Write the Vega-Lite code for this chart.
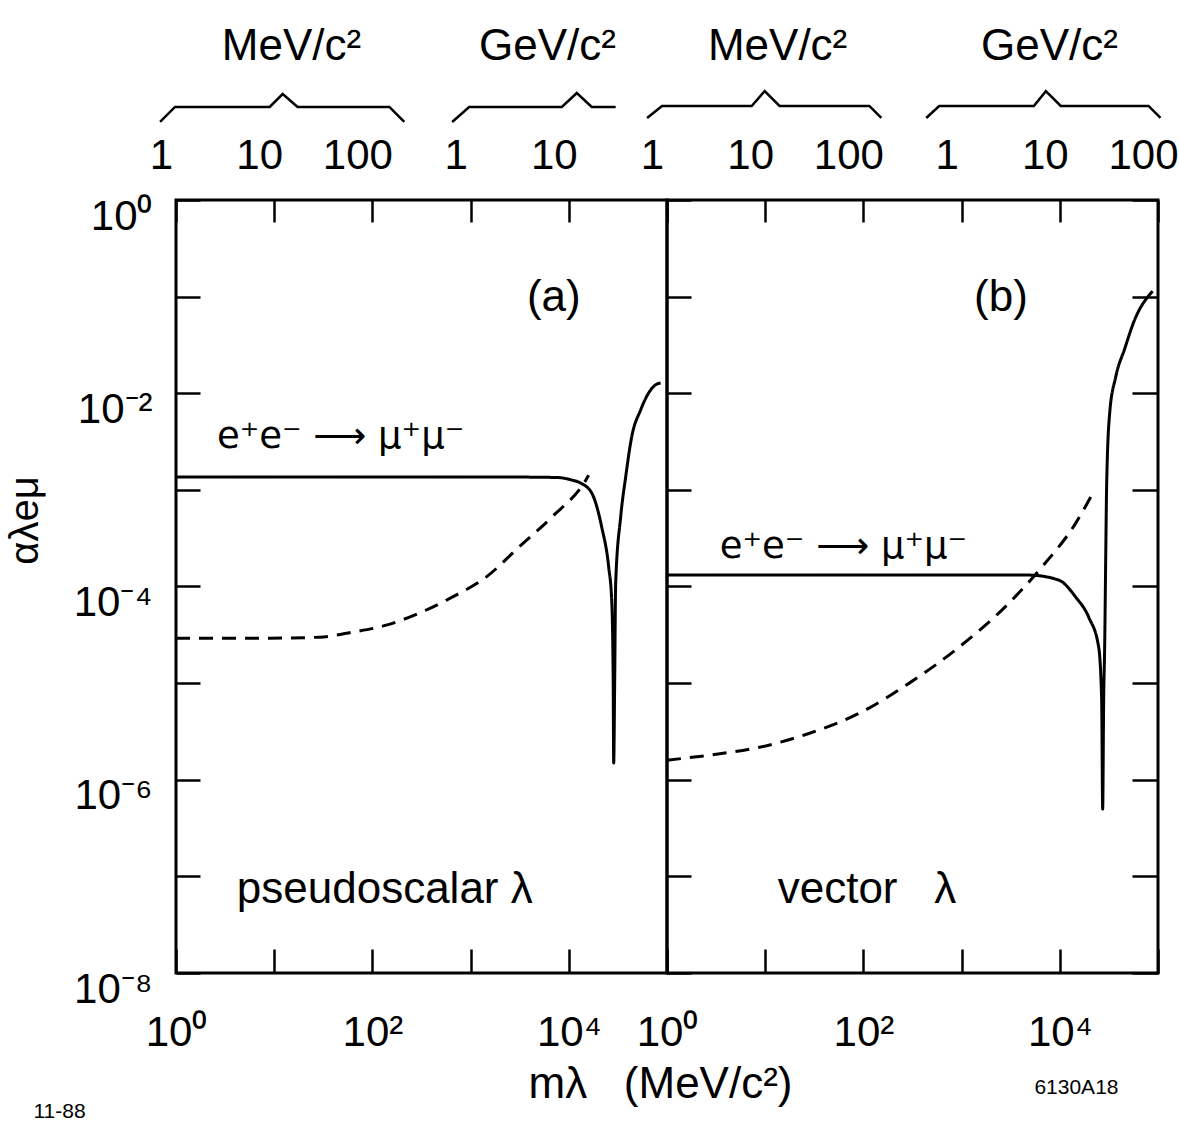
{
  "$schema": "https://vega.github.io/schema/vega-lite/v6.json",
  "background": "white",
  "padding": {"left": 3, "top": 23, "right": 5, "bottom": 5},
  "config": {
    "font": "Liberation Sans",
    "view": {"stroke": "black", "strokeWidth": 3},
    "axis": {"domain": false, "grid": false, "tickColor": "black", "tickWidth": 2.5, "labelColor": "black", "labelFont": "Liberation Sans", "labelFontSize": 42, "labelOverlap": false, "labelFlush": false, "labelBound": false, "titleColor": "black", "titleFont": "Liberation Sans", "titleFontWeight": "normal"},
    "text": {"font": "Liberation Sans", "color": "black"}
  },
  "datasets": {
    "curves": [
      {"panel": "a", "curve": "ee", "mass": 1, "coupling": 0.001358},
      {"panel": "a", "curve": "ee", "mass": 10, "coupling": 0.001358},
      {"panel": "a", "curve": "ee", "mass": 100, "coupling": 0.001358},
      {"panel": "a", "curve": "ee", "mass": 1000, "coupling": 0.001358},
      {"panel": "a", "curve": "ee", "mass": 4000, "coupling": 0.001355},
      {"panel": "a", "curve": "ee", "mass": 7900, "coupling": 0.00134},
      {"panel": "a", "curve": "ee", "mass": 10500, "coupling": 0.00127},
      {"panel": "a", "curve": "ee", "mass": 13240, "coupling": 0.001175},
      {"panel": "a", "curve": "ee", "mass": 17130, "coupling": 0.000927},
      {"panel": "a", "curve": "ee", "mass": 21640, "coupling": 0.000412},
      {"panel": "a", "curve": "ee", "mass": 25480, "coupling": 0.000159},
      {"panel": "a", "curve": "ee", "mass": 27340, "coupling": 0.0000723},
      {"panel": "a", "curve": "ee", "mass": 28310, "coupling": 0.0000107},
      {"panel": "a", "curve": "ee", "mass": 28650, "coupling": 0.00000149},
      {"panel": "a", "curve": "ee", "mass": 29330, "coupling": 0.0000107},
      {"panel": "a", "curve": "ee", "mass": 30010, "coupling": 0.000108},
      {"panel": "a", "curve": "ee", "mass": 33730, "coupling": 0.000523},
      {"panel": "a", "curve": "ee", "mass": 37930, "coupling": 0.001358},
      {"panel": "a", "curve": "ee", "mass": 43650, "coupling": 0.00352},
      {"panel": "a", "curve": "ee", "mass": 53830, "coupling": 0.0067},
      {"panel": "a", "curve": "ee", "mass": 64910, "coupling": 0.01005},
      {"panel": "a", "curve": "ee", "mass": 76420, "coupling": 0.0122},
      {"panel": "a", "curve": "ee", "mass": 85960, "coupling": 0.0128},
      {"panel": "a", "curve": "other", "mass": 1, "coupling": 0.0000292},
      {"panel": "a", "curve": "other", "mass": 9, "coupling": 0.0000292},
      {"panel": "a", "curve": "other", "mass": 29, "coupling": 0.0000299},
      {"panel": "a", "curve": "other", "mass": 62.7, "coupling": 0.0000337},
      {"panel": "a", "curve": "other", "mass": 138.7, "coupling": 0.0000398},
      {"panel": "a", "curve": "other", "mass": 300, "coupling": 0.0000531},
      {"panel": "a", "curve": "other", "mass": 649, "coupling": 0.0000776},
      {"panel": "a", "curve": "other", "mass": 1437, "coupling": 0.000125},
      {"panel": "a", "curve": "other", "mass": 3106, "coupling": 0.000256},
      {"panel": "a", "curve": "other", "mass": 6720, "coupling": 0.000523},
      {"panel": "a", "curve": "other", "mass": 14890, "coupling": 0.00126},
      {"panel": "a", "curve": "other", "mass": 15960, "coupling": 0.00142},
      {"panel": "b", "curve": "ee", "mass": 1, "coupling": 0.0001312},
      {"panel": "b", "curve": "ee", "mass": 10, "coupling": 0.0001312},
      {"panel": "b", "curve": "ee", "mass": 100, "coupling": 0.0001312},
      {"panel": "b", "curve": "ee", "mass": 1000, "coupling": 0.0001312},
      {"panel": "b", "curve": "ee", "mass": 4842, "coupling": 0.0001312},
      {"panel": "b", "curve": "ee", "mass": 9772, "coupling": 0.0001164},
      {"panel": "b", "curve": "ee", "mass": 14530, "coupling": 0.0000776},
      {"panel": "b", "curve": "ee", "mass": 19680, "coupling": 0.0000482},
      {"panel": "b", "curve": "ee", "mass": 24880, "coupling": 0.0000236},
      {"panel": "b", "curve": "ee", "mass": 26680, "coupling": 0.00000667},
      {"panel": "b", "curve": "ee", "mass": 27330, "coupling": 0.000000497},
      {"panel": "b", "curve": "ee", "mass": 27970, "coupling": 0.00000667},
      {"panel": "b", "curve": "ee", "mass": 28650, "coupling": 0.0000247},
      {"panel": "b", "curve": "ee", "mass": 29330, "coupling": 0.000187},
      {"panel": "b", "curve": "ee", "mass": 30010, "coupling": 0.00115},
      {"panel": "b", "curve": "ee", "mass": 32210, "coupling": 0.00624},
      {"panel": "b", "curve": "ee", "mass": 37070, "coupling": 0.0147},
      {"panel": "b", "curve": "ee", "mass": 45710, "coupling": 0.0287},
      {"panel": "b", "curve": "ee", "mass": 57710, "coupling": 0.0573},
      {"panel": "b", "curve": "ee", "mass": 87950, "coupling": 0.114},
      {"panel": "b", "curve": "other", "mass": 1, "coupling": 0.000001595},
      {"panel": "b", "curve": "other", "mass": 2.73, "coupling": 0.0000018},
      {"panel": "b", "curve": "other", "mass": 8.79, "coupling": 0.00000217},
      {"panel": "b", "curve": "other", "mass": 28.3, "coupling": 0.00000303},
      {"panel": "b", "curve": "other", "mass": 91.1, "coupling": 0.00000489},
      {"panel": "b", "curve": "other", "mass": 293, "coupling": 0.00001},
      {"panel": "b", "curve": "other", "mass": 944, "coupling": 0.0000236},
      {"panel": "b", "curve": "other", "mass": 3035, "coupling": 0.0000673},
      {"panel": "b", "curve": "other", "mass": 6565, "coupling": 0.000159},
      {"panel": "b", "curve": "other", "mass": 14530, "coupling": 0.000453},
      {"panel": "b", "curve": "other", "mass": 21150, "coupling": 0.000883}
    ],
    "braces": [
      {"panel": "a", "unit": "MeV", "mass": 0.688, "coupling": 6.42},
      {"panel": "a", "unit": "MeV", "mass": 0.977, "coupling": 9.18},
      {"panel": "a", "unit": "MeV", "mass": 9.0, "coupling": 9.18},
      {"panel": "a", "unit": "MeV", "mass": 12.2, "coupling": 12.5},
      {"panel": "a", "unit": "MeV", "mass": 17.3, "coupling": 9.18},
      {"panel": "a", "unit": "MeV", "mass": 149, "coupling": 9.18},
      {"panel": "a", "unit": "MeV", "mass": 211, "coupling": 6.42},
      {"panel": "a", "unit": "GeV", "mass": 649, "coupling": 6.42},
      {"panel": "a", "unit": "GeV", "mass": 966, "coupling": 9.18},
      {"panel": "a", "unit": "GeV", "mass": 8490, "coupling": 9.18},
      {"panel": "a", "unit": "GeV", "mass": 12060, "coupling": 12.8},
      {"panel": "a", "unit": "GeV", "mass": 17130, "coupling": 9.18},
      {"panel": "a", "unit": "GeV", "mass": 30010, "coupling": 9.18},
      {"panel": "b", "unit": "MeV", "mass": 0.627, "coupling": 7.06},
      {"panel": "b", "unit": "MeV", "mass": 0.89, "coupling": 9.4},
      {"panel": "b", "unit": "MeV", "mass": 7.29, "coupling": 9.4},
      {"panel": "b", "unit": "MeV", "mass": 9.88, "coupling": 13.4},
      {"panel": "b", "unit": "MeV", "mass": 14.0, "coupling": 9.4},
      {"panel": "b", "unit": "MeV", "mass": 115, "coupling": 9.4},
      {"panel": "b", "unit": "MeV", "mass": 152, "coupling": 7.06},
      {"panel": "b", "unit": "GeV", "mass": 436, "coupling": 7.06},
      {"panel": "b", "unit": "GeV", "mass": 591, "coupling": 9.4},
      {"panel": "b", "unit": "GeV", "mass": 5445, "coupling": 9.4},
      {"panel": "b", "unit": "GeV", "mass": 7210, "coupling": 13.4},
      {"panel": "b", "unit": "GeV", "mass": 10230, "coupling": 9.4},
      {"panel": "b", "unit": "GeV", "mass": 80130, "coupling": 9.4},
      {"panel": "b", "unit": "GeV", "mass": 106000, "coupling": 7.06}
    ],
    "notes": [
      {"panel": "a", "kind": "unit", "note": "MeV/c²", "mass": 2.93, "coupling": 28},
      {"panel": "a", "kind": "unit", "note": "GeV/c²", "mass": 1220, "coupling": 28},
      {"panel": "a", "kind": "tag", "note": "(a)", "mass": 3750, "coupling": 0.071},
      {"panel": "a", "kind": "process", "note": "e⁺e⁻ ⟶ μ⁺μ⁻", "mass": 2.61, "coupling": 0.00271},
      {"panel": "a", "kind": "type", "note": "pseudoscalar λ", "mass": 4.16, "coupling": 5.28e-8},
      {"panel": "b", "kind": "unit", "note": "MeV/c²", "mass": 2.61, "coupling": 28},
      {"panel": "b", "kind": "unit", "note": "GeV/c²", "mass": 1578, "coupling": 28},
      {"panel": "b", "kind": "tag", "note": "(b)", "mass": 1340, "coupling": 0.071},
      {"panel": "b", "kind": "process", "note": "e⁺e⁻ ⟶ μ⁺μ⁻", "mass": 3.45, "coupling": 0.000197},
      {"panel": "b", "kind": "type", "note": "vector\u00a0\u00a0\u00a0λ", "mass": 13.4, "coupling": 5.3e-8}
    ]
  },
  "spacing": 0,
  "bounds": "flush",
  "hconcat": [
    {
      "width": 491,
      "height": 773,
      "resolve": {"axis": {"x": "independent", "y": "independent"}},
      "layer": [
        {
          "data": {"name": "curves"},
          "transform": [{"filter": "datum.panel == 'a'"}],
          "mark": {"type": "line", "color": "black", "strokeWidth": 3, "interpolate": "monotone"},
          "encoding": {
            "x": {"field": "mass", "type": "quantitative", "scale": {"type": "log", "domain": [1, 100000], "nice": false},
              "axis": {"orient": "bottom", "values": [1, 10, 100, 1000, 10000, 100000], "tickSize": -24, "labelPadding": 96, "labelBaseline": "alphabetic",
                "labelExpr": "datum.value == 1 ? '10⁰' : datum.value == 100 ? '10²' : datum.value == 10000 ? '10⁴' : ''",
                "title": "11-88", "titleX": -143, "titleY": 144, "titleAlign": "left", "titleBaseline": "alphabetic", "titleFontSize": 21}},
            "y": {"field": "coupling", "type": "quantitative", "scale": {"type": "log", "domain": [1e-8, 1], "nice": false},
              "axis": {"orient": "left", "values": [1e-8, 1e-7, 1e-6, 1e-5, 1e-4, 1e-3, 1e-2, 1e-1, 1], "tickSize": -24, "labelPadding": 48, "labelBaseline": "alphabetic", "labelOffset": 29,
                "labelExpr": "round(log(datum.value)/LN10) == 0 ? '10⁰' : round(log(datum.value)/LN10) == -2 ? '10⁻²' : round(log(datum.value)/LN10) == -4 ? '10⁻⁴' : round(log(datum.value)/LN10) == -6 ? '10⁻⁶' : round(log(datum.value)/LN10) == -8 ? '10⁻⁸' : ''",
                "title": "αλeμ", "titleAngle": 270, "titleX": -139, "titleY": 320, "titleAlign": "center", "titleBaseline": "alphabetic", "titleFontSize": 40}},
            "strokeDash": {"field": "curve", "type": "nominal", "scale": {"domain": ["ee", "other"], "range": [[1, 0], [14, 9]]}, "legend": null}
          }
        },
        {
          "data": {"name": "braces"},
          "transform": [{"filter": "datum.panel == 'a'"}],
          "mark": {"type": "line", "color": "black", "strokeWidth": 2.5, "clip": false},
          "encoding": {
            "x": {"field": "mass", "type": "quantitative", "scale": {"type": "log", "domain": [1, 100000], "nice": false},
              "axis": {"orient": "top", "values": [1, 10, 100, 1000, 10000, 100000], "tickSize": -22, "labelPadding": 54, "labelBaseline": "alphabetic", "labelOffset": -15,
                "labelExpr": "datum.value == 1 ? '1' : datum.value == 10 ? '10' : datum.value == 100 ? '100' : datum.value == 1000 ? '1' : datum.value == 10000 ? '10' : ''",
                "title": null}},
            "y": {"field": "coupling", "type": "quantitative", "scale": {"type": "log", "domain": [1e-8, 1], "nice": false}, "axis": null},
            "detail": {"field": "unit", "type": "nominal"}
          }
        },
        {
          "data": {"name": "notes"},
          "transform": [{"filter": "datum.panel == 'a' && datum.kind != 'process'"}],
          "mark": {"type": "text", "align": "left", "baseline": "alphabetic", "fontSize": 44, "clip": false},
          "encoding": {
            "x": {"field": "mass", "type": "quantitative", "scale": {"type": "log", "domain": [1, 100000], "nice": false}, "axis": null},
            "y": {"field": "coupling", "type": "quantitative", "scale": {"type": "log", "domain": [1e-8, 1], "nice": false}, "axis": null},
            "text": {"field": "note", "type": "nominal"}
          }
        },
        {
          "data": {"name": "notes"},
          "transform": [{"filter": "datum.panel == 'a' && datum.kind == 'process'"}],
          "mark": {"type": "text", "align": "left", "baseline": "alphabetic", "fontSize": 37, "font": "DejaVu Sans", "clip": false},
          "encoding": {
            "x": {"field": "mass", "type": "quantitative", "scale": {"type": "log", "domain": [1, 100000], "nice": false}, "axis": null},
            "y": {"field": "coupling", "type": "quantitative", "scale": {"type": "log", "domain": [1e-8, 1], "nice": false}, "axis": null},
            "text": {"field": "note", "type": "nominal"}
          }
        }
      ]
    },
    {
      "width": 491,
      "height": 773,
      "resolve": {"axis": {"x": "independent", "y": "independent"}},
      "layer": [
        {
          "data": {"name": "curves"},
          "transform": [{"filter": "datum.panel == 'b'"}],
          "mark": {"type": "line", "color": "black", "strokeWidth": 3, "interpolate": "monotone"},
          "encoding": {
            "x": {"field": "mass", "type": "quantitative", "scale": {"type": "log", "domain": [1, 100000], "nice": false},
              "axis": {"orient": "bottom", "values": [1, 10, 100, 1000, 10000, 100000], "tickSize": -24, "labelPadding": 96, "labelBaseline": "alphabetic",
                "labelExpr": "datum.value == 1 ? '10⁰' : datum.value == 100 ? '10²' : datum.value == 10000 ? '10⁴' : ''",
                "title": "mλ\u00a0\u00a0\u00a0(MeV/c²)", "titleX": -139, "titleY": 124, "titleAlign": "left", "titleBaseline": "alphabetic", "titleFontSize": 44}},
            "y": {"field": "coupling", "type": "quantitative", "scale": {"type": "log", "domain": [1e-8, 1], "nice": false},
              "axis": {"orient": "left", "values": [1e-8, 1e-7, 1e-6, 1e-5, 1e-4, 1e-3, 1e-2, 1e-1, 1], "tickSize": -24, "labels": false, "title": null}},
            "strokeDash": {"field": "curve", "type": "nominal", "scale": {"domain": ["ee", "other"], "range": [[1, 0], [14, 9]]}, "legend": null}
          }
        },
        {
          "data": {"name": "braces"},
          "transform": [{"filter": "datum.panel == 'b'"}],
          "mark": {"type": "line", "color": "black", "strokeWidth": 2.5, "clip": false},
          "encoding": {
            "x": {"field": "mass", "type": "quantitative", "scale": {"type": "log", "domain": [1, 100000], "nice": false},
              "axis": {"orient": "top", "values": [1, 10, 100, 1000, 10000, 100000], "tickSize": -22, "labelPadding": 54, "labelBaseline": "alphabetic", "labelOffset": -15,
                "labelExpr": "datum.value == 1 ? '1' : datum.value == 10 ? '10' : datum.value == 100 ? '100' : datum.value == 1000 ? '1' : datum.value == 10000 ? '10' : datum.value == 100000 ? '100' : ''",
                "title": null}},
            "y": {"field": "coupling", "type": "quantitative", "scale": {"type": "log", "domain": [1e-8, 1], "nice": false},
              "axis": {"orient": "right", "values": [1e-8, 1e-7, 1e-6, 1e-5, 1e-4, 1e-3, 1e-2, 1e-1, 1], "tickSize": -26, "labels": false,
                "title": "6130A18", "titleAngle": 0, "titleX": -40, "titleY": 893, "titleAlign": "right", "titleBaseline": "alphabetic", "titleFontSize": 21}},
            "detail": {"field": "unit", "type": "nominal"}
          }
        },
        {
          "data": {"name": "notes"},
          "transform": [{"filter": "datum.panel == 'b' && datum.kind != 'process'"}],
          "mark": {"type": "text", "align": "left", "baseline": "alphabetic", "fontSize": 44, "clip": false},
          "encoding": {
            "x": {"field": "mass", "type": "quantitative", "scale": {"type": "log", "domain": [1, 100000], "nice": false}, "axis": null},
            "y": {"field": "coupling", "type": "quantitative", "scale": {"type": "log", "domain": [1e-8, 1], "nice": false}, "axis": null},
            "text": {"field": "note", "type": "nominal"}
          }
        },
        {
          "data": {"name": "notes"},
          "transform": [{"filter": "datum.panel == 'b' && datum.kind == 'process'"}],
          "mark": {"type": "text", "align": "left", "baseline": "alphabetic", "fontSize": 37, "font": "DejaVu Sans", "clip": false},
          "encoding": {
            "x": {"field": "mass", "type": "quantitative", "scale": {"type": "log", "domain": [1, 100000], "nice": false}, "axis": null},
            "y": {"field": "coupling", "type": "quantitative", "scale": {"type": "log", "domain": [1e-8, 1], "nice": false}, "axis": null},
            "text": {"field": "note", "type": "nominal"}
          }
        }
      ]
    }
  ]
}
